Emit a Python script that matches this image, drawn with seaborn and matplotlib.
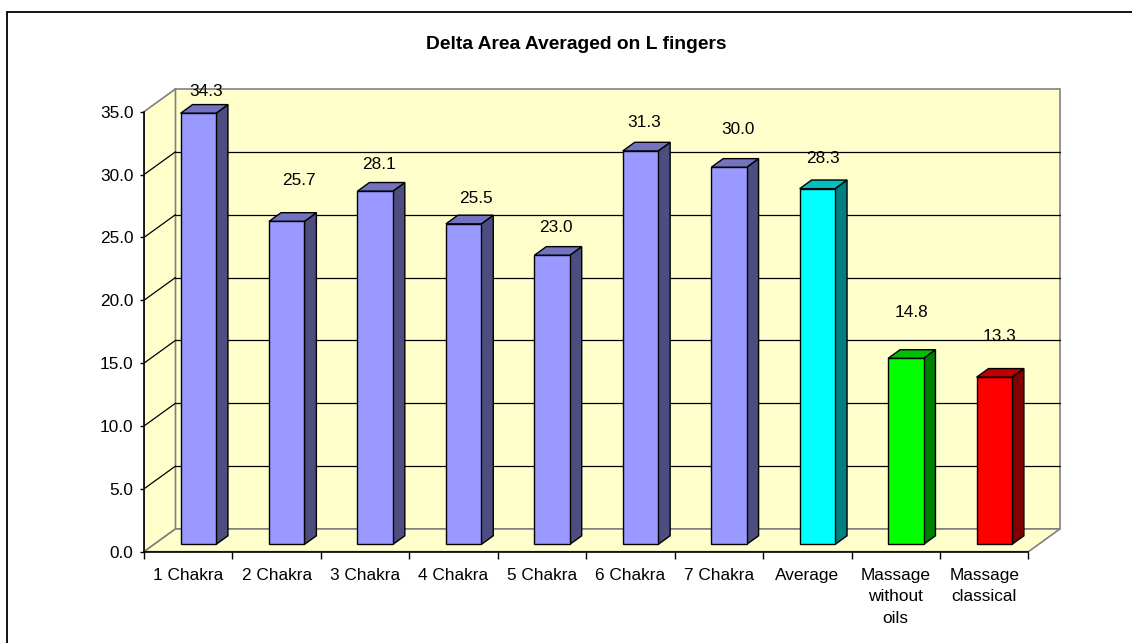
"""
Delta Area Averaged on L fingers - Excel style 3D column chart.
"""
import numpy as np
import pandas as pd
import seaborn as sns
import matplotlib
matplotlib.use('Agg')
from matplotlib import pyplot as plt
from matplotlib.patches import Polygon
from matplotlib.lines import Line2D
import matplotlib.transforms as mtransforms

categories = ['1 Chakra', '2 Chakra', '3 Chakra', '4 Chakra', '5 Chakra',
              '6 Chakra', '7 Chakra', 'Average', 'Massage\nwithout\noils',
              'Massage\nclassical']
values = [34.3, 25.7, 28.1, 25.5, 23.0, 31.3, 30.0, 28.3, 14.8, 13.3]
yticks = [0, 5, 10, 15, 20, 25, 30, 35]

front_cols = ['#9999FF'] * 7 + ['#00FFFF', '#00FF00', '#FF0000']
side_cols = ['#4D4D80'] * 7 + ['#008080', '#008000', '#800000']
top_cols = ['#7373BF'] * 7 + ['#00BFBF', '#00BF00', '#BF0000']

# excel put the value labels a bit unevenly, nudges in pixels
lab_dx = [8, 12, 4, 12, 4, 4, 9, 6, 6, 5]
lab_dy = [22, 41, 27, 25, 28, 28, 38, 30, 46, 41]

sns.set_style("white")
plt.rcParams['font.family'] = ['Liberation Sans', 'DejaVu Sans']
plt.rcParams['text.color'] = 'black'
plt.rcParams['xtick.color'] = 'black'
plt.rcParams['ytick.color'] = 'black'

W, H = 1132, 643
fig = plt.figure(figsize=(W / 100, H / 100), dpi=100)

# pixel scale of the front plane
sx = 88.44
sy = 12.571
ymax = 37.0
xr = 9.9
ax = fig.add_axes([144 / W, (H - 551.7) / H, (xr + 0.5) * sx / W, ymax * sy / H])
ax.patch.set_alpha(0)

# depth of the floor in data units, and where the bars sit in it
ddx, ddy = 0.356, 1.81
f1, dep = 0.32, 0.38
n = len(categories)
wall = '#FFFFCC'
edge = '#808080'

ax.add_patch(Polygon([(-0.5 + ddx, ddy), (n - 0.5 + ddx, ddy), (n - 0.5 + ddx, 35 + ddy),
                      (-0.5 + ddx, 35 + ddy)], fc=wall, ec=edge, lw=1.2, zorder=1))
ax.add_patch(Polygon([(-0.5, 0), (-0.5 + ddx, ddy), (-0.5 + ddx, 35 + ddy), (-0.5, 35)],
                     fc=wall, ec=edge, lw=1.2, zorder=1))
ax.add_patch(Polygon([(-0.5, 0), (n - 0.5, 0), (n - 0.5 + ddx, ddy), (-0.5 + ddx, ddy)],
                     fc=wall, ec=edge, lw=1.2, zorder=1))
for v in yticks[1:-1]:
    ax.plot([-0.5 + ddx, n - 0.5 + ddx], [v + ddy, v + ddy], color='black', lw=0.9, zorder=2)
    ax.plot([-0.5, -0.5 + ddx], [v, v + ddy], color='black', lw=0.9, zorder=2)

df = pd.DataFrame({'category': categories, 'value': values})
sns.barplot(data=df, x='category', y='value', hue='category', palette=front_cols,
            saturation=1, width=0.4, edgecolor='black', linewidth=1, legend=False,
            ax=ax, zorder=5)

shift = mtransforms.Affine2D().translate(f1 * ddx, f1 * ddy)
bars = sorted(ax.patches[3:], key=lambda p: p.get_x())
for i, p in enumerate(bars):
    p.set_transform(shift + ax.transData)
    p.set_clip_on(False)
    x0 = p.get_x() + f1 * ddx
    w = p.get_width()
    h = p.get_height() + f1 * ddy
    b = f1 * ddy
    ox, oy = dep * ddx, dep * ddy
    ax.add_patch(Polygon([(x0 + w, b), (x0 + w, h), (x0 + w + ox, h + oy), (x0 + w + ox, b + oy)],
                         fc=side_cols[i], ec='black', lw=1, zorder=4, clip_on=False))
    ax.add_patch(Polygon([(x0, h), (x0 + w, h), (x0 + w + ox, h + oy), (x0 + ox, h + oy)],
                         fc=top_cols[i], ec='black', lw=1, zorder=4, clip_on=False))
    ax.annotate(f'{values[i]:.1f}', xy=(x0 + w / 2, h), xytext=(lab_dx[i], lab_dy[i]),
                textcoords='offset pixels', ha='center', va='center', fontsize=12.4,
                color='black', zorder=6)

ax.set_xlim(-0.5, xr)
ax.set_ylim(0, ymax)
ax.set_xlabel('')
ax.set_ylabel('')
for s in ['top', 'right']:
    ax.spines[s].set_visible(False)
ax.spines['left'].set_bounds(0, 35)
ax.spines['bottom'].set_bounds(-0.5, n - 0.5)
for s in ['left', 'bottom']:
    ax.spines[s].set_color('black')
    ax.spines[s].set_linewidth(1.2)
    ax.spines[s].set_zorder(7)

ax.set_yticks(yticks, labels=[f'{v:.1f}' for v in yticks])
ax.set_xticks(np.arange(-0.5, n, 1.0), labels=[''] * (n + 1))
ax.set_xticks(np.arange(n), labels=categories, minor=True)
ax.tick_params(axis='y', length=3, width=1, pad=4.7, labelsize=12.4, color='black', left=True)
ax.tick_params(axis='x', which='major', length=5, width=1, color='black', bottom=True)
ax.tick_params(axis='x', which='minor', length=0, pad=11.5, labelsize=12.4)
for t in ax.get_xticklabels(minor=True):
    t.set_multialignment('center')
    t.set_linespacing(1.55)

fig.text(575.8 / W, 1 - 49.3 / H, 'Delta Area Averaged on L fingers', ha='center',
         va='baseline', fontsize=13.9, fontweight='bold')

# chart frame, only top and left edges fall inside the picture
fig.add_artist(Line2D([7 / W, 1], [1 - 12 / H, 1 - 12 / H], color='black', lw=1.3,
                      transform=fig.transFigure))
fig.add_artist(Line2D([7 / W, 7 / W], [0, 1 - 12 / H], color='black', lw=1.3,
                      transform=fig.transFigure))

fig.savefig('out.png', dpi=100)
